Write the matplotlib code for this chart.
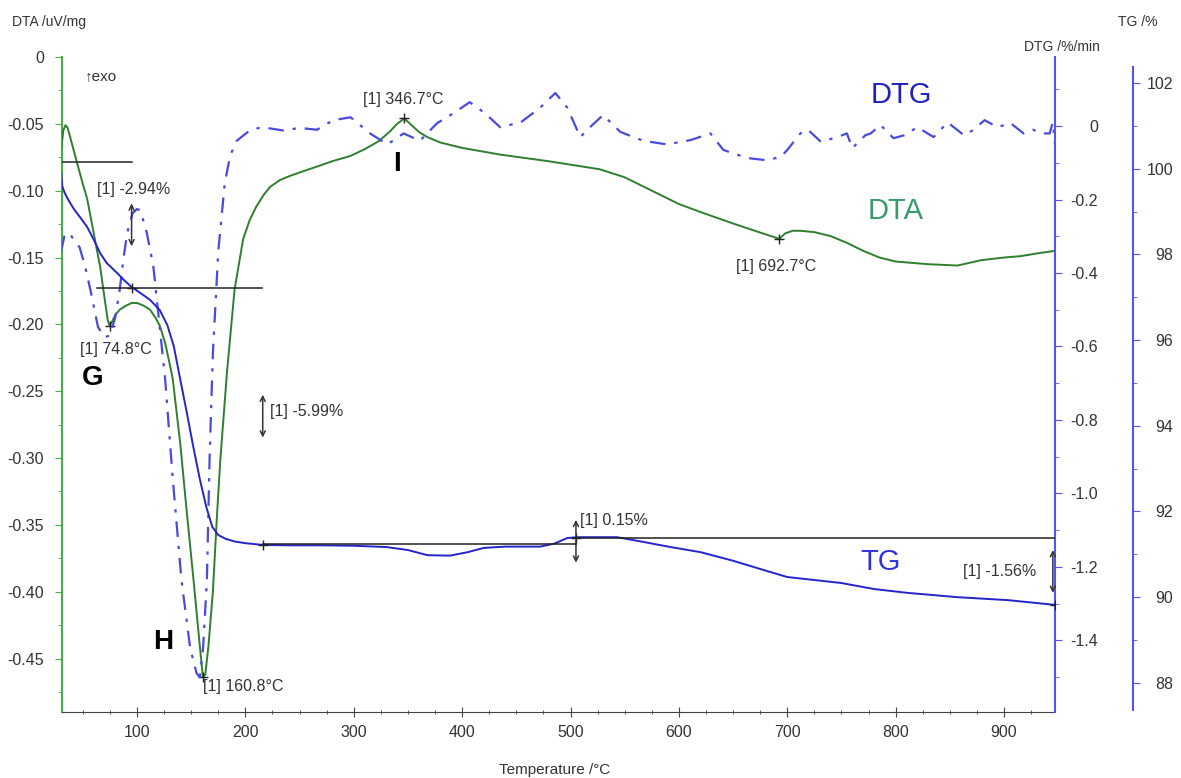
import numpy as np
import matplotlib
matplotlib.use("Agg")
import matplotlib.pyplot as plt
from matplotlib.ticker import MultipleLocator

plt.rcParams['font.family'] = ['Liberation Sans', 'DejaVu Sans']

# DTA curve (temperature degC, uV/mg)
dta_t = [30, 32, 34, 36, 40, 45, 50, 54, 58, 62, 66, 70, 73, 74.8, 77, 80, 84, 90, 95, 100,
         106, 112, 117, 121, 126, 130.5, 133, 140, 146, 152, 158, 160.8, 163, 166, 170, 174,
         177, 183, 190, 198, 204, 210, 217, 223, 232, 241, 255, 266, 280, 297, 310, 323, 333,
         340, 346.7, 352, 360, 368, 380, 400, 435, 480, 527, 550, 575, 600, 620, 648, 670,
         685, 692.7, 698, 705, 712, 725, 740, 755, 770, 785, 800, 830, 857, 879, 900, 915,
         930, 947]
dta_v = [-0.07, -0.055, -0.051, -0.053, -0.065, -0.08, -0.095, -0.106, -0.123, -0.140, -0.157,
         -0.180, -0.197, -0.201, -0.198, -0.193, -0.189, -0.186, -0.184, -0.184, -0.186, -0.189,
         -0.195, -0.201, -0.214, -0.231, -0.241, -0.290, -0.341, -0.390, -0.441, -0.464, -0.462,
         -0.440, -0.400, -0.340, -0.300, -0.236, -0.174, -0.136, -0.122, -0.112, -0.103, -0.097,
         -0.092, -0.089, -0.085, -0.082, -0.078, -0.074, -0.069, -0.063, -0.056, -0.050, -0.046,
         -0.050, -0.056, -0.060, -0.064, -0.068, -0.073, -0.078, -0.084, -0.090, -0.100, -0.110,
         -0.116, -0.124, -0.130, -0.134, -0.136, -0.132, -0.130, -0.130, -0.131, -0.134, -0.139,
         -0.145, -0.150, -0.153, -0.155, -0.156, -0.152, -0.150, -0.149, -0.147, -0.145]

# TG curve (degC, %)
tg_t = [30, 31, 33, 36, 42, 48, 54, 60, 66, 72, 81.5, 88, 95, 103, 112, 121, 128, 134, 140,
        146, 152, 158, 164, 169.5, 175, 182, 190, 200, 216, 240, 270, 300, 330, 350, 368, 389,
        405, 420, 440, 472, 485, 497, 506, 543, 565, 590, 620, 650, 680, 700, 725, 750, 780,
        811, 857, 904, 947]
tg_v = [99.92, 99.6, 99.45, 99.30, 99.05, 98.85, 98.64, 98.35, 98.03, 97.8, 97.57, 97.40, 97.24,
        97.10, 96.94, 96.70, 96.35, 95.85, 95.07, 94.3, 93.5, 92.75, 92.1, 91.64, 91.45, 91.36,
        91.30, 91.26, 91.22, 91.21, 91.21, 91.20, 91.17, 91.10, 90.98, 90.97, 91.05, 91.15,
        91.18, 91.18, 91.25, 91.38, 91.40, 91.40, 91.30, 91.18, 91.05, 90.85, 90.62, 90.47,
        90.40, 90.33, 90.19, 90.10, 90.00, 89.93, 89.82]

# DTG curve (degC, %/min)
dtg_t = [30, 33, 37, 42, 47, 52, 57, 64, 70, 75, 80, 84, 88, 91, 96, 100, 103, 109, 115, 120,
         126, 133, 141, 149, 155, 158, 161, 164.5, 167, 170, 175, 181, 186, 192, 204, 215, 235,
         250, 266, 281, 297, 315, 331, 346, 361, 377, 392, 407, 421, 435, 454, 472, 486, 497,
         509, 518, 530, 546, 567, 589, 602, 611, 629, 641, 663, 681, 694, 700, 712, 719, 731,
         746, 755, 760, 772, 777, 786, 798, 808, 820, 835, 848, 863, 872, 882, 894, 906, 918,
         927, 933, 942, 945, 947]
dtg_v = [-0.34, -0.30, -0.29, -0.31, -0.33, -0.38, -0.446, -0.547, -0.575, -0.57, -0.52, -0.446,
         -0.35, -0.29, -0.237, -0.226, -0.229, -0.29, -0.38, -0.52, -0.69, -0.96, -1.235, -1.42,
         -1.49, -1.50, -1.42, -1.235, -0.90, -0.62, -0.34, -0.155, -0.08, -0.04, -0.012, -0.003,
         -0.012, -0.005, -0.01, 0.016, 0.024, -0.02, -0.05, -0.02, -0.04, 0.008, 0.035, 0.065,
         0.035, -0.003, 0.01, 0.05, 0.09, 0.05, -0.03, -0.003, 0.03, -0.016, -0.04, -0.05,
         -0.043, -0.038, -0.02, -0.065, -0.087, -0.093, -0.084, -0.065, -0.02, -0.01, -0.043,
         -0.03, -0.02, -0.06, -0.025, -0.02, 0.003, -0.033, -0.025, -0.003, -0.03, 0.01, -0.025,
         -0.01, 0.016, -0.003, 0.008, -0.02, -0.01, -0.02, -0.02, 0.01, -0.05]

# TG step evaluation: levels and step temperatures
step_levels = [100.16, 97.22, 91.23, 91.38, 89.82]
step_lines = [(30, 95), (63, 215), (216, 505), (505, 947)]
step_arrow_t = [95, 216, 505, 945]
step_labels = ['[1] -2.94%', '[1] -5.99%', '[1] 0.15%', '[1] -1.56%']
step_label_pos = [(63, -0.099), (223, -0.265), (509, -0.347), (862, -0.385)]

peak_t = [74.8, 160.8, 346.7, 692.7]
peak_v = [-0.201, -0.464, -0.046, -0.136]
peak_labels = ['[1] 74.8°C', '[1] 160.8°C', '[1] 346.7°C', '[1] 692.7°C']
peak_label_pos = [(47.3, -0.219), (161, -0.471), (308.8, -0.0315), (652.4, -0.1565)]

dta_ticks = [0, -0.05, -0.10, -0.15, -0.20, -0.25, -0.30, -0.35, -0.40, -0.45]
dtg_ticks = [0, -0.2, -0.4, -0.6, -0.8, -1.0, -1.2, -1.4]
tg_ticks = [88, 90, 92, 94, 96, 98, 100, 102]

green = '#2f7f2f'
green_ax = '#45b045'
blue_tg = '#2424cc'
blue_dtg = '#4a4ade'
blue_ax = '#5555ee'
txt = '#333333'

fig = plt.figure(figsize=(11.81, 7.78), dpi=100)
ax = fig.add_axes([62/1181, 1-712/778, (1055-62)/1181, (712-57)/778])
ax2 = ax.twinx()
ax3 = ax.twinx()

ax.plot(dta_t, dta_v, color=green, lw=1.4, zorder=3)
ax2.plot(dtg_t, dtg_v, color=blue_dtg, lw=1.6, ls=(0, (7, 4, 1.5, 4)))
ax3.plot(tg_t, tg_v, color=blue_tg, lw=1.4)

ax.set_xlim(30.8, 947)
ax.set_ylim(-0.49, 0)
ax2.set_ylim(-1.595, 0.188)
ax3.set_ylim(87.32, 102.607)

# spines
for s in ['top', 'right']:
    ax.spines[s].set_visible(False)
ax.spines['left'].set_color(green_ax)
ax.spines['left'].set_linewidth(1.5)
ax.spines['bottom'].set_color('#444444')
for a in (ax2, ax3):
    for s in ['left', 'top', 'bottom']:
        a.spines[s].set_visible(False)
    a.spines['right'].set_color(blue_ax)
    a.spines['right'].set_linewidth(1.5)
ax3.spines['right'].set_position(('axes', (1133-62)/(1055-62)))
ax3.spines['right'].set_bounds(87.37, 102.37)

# ticks
ax.set_xticks(range(100, 901, 100))
ax.xaxis.set_minor_locator(MultipleLocator(25))
ax.tick_params(axis='x', which='major', direction='inout', length=7, colors='#444444',
               labelcolor=txt, labelsize=11.5, pad=6)
ax.tick_params(axis='x', which='minor', direction='inout', length=3, colors='#444444')

ax.set_yticks(dta_ticks)
ax.set_yticklabels(['0'] + ['%.2f' % v for v in dta_ticks[1:]])
ax.yaxis.set_minor_locator(MultipleLocator(0.025))
ax.tick_params(axis='y', which='major', direction='out', length=5, colors=green_ax,
               labelcolor=txt, labelsize=11.5, pad=8)
ax.tick_params(axis='y', which='minor', direction='out', length=3, colors=green_ax)

ax2.set_yticks(dtg_ticks)
ax2.set_yticklabels(['0'] + ['%.1f' % v for v in dtg_ticks[1:]])
ax2.yaxis.set_minor_locator(MultipleLocator(0.1))
ax2.tick_params(axis='y', which='major', direction='out', length=5, colors=blue_ax,
                labelcolor=txt, labelsize=11.5, pad=26)
ax2.tick_params(axis='y', which='minor', direction='out', length=3, colors=blue_ax)
for lab in ax2.get_yticklabels():
    lab.set_horizontalalignment('right')

ax3.set_yticks(tg_ticks)
ax3.yaxis.set_minor_locator(MultipleLocator(1))
ax3.tick_params(axis='y', which='major', direction='out', length=5, colors=blue_ax,
                labelcolor=txt, labelsize=11.5, pad=24)
ax3.tick_params(axis='y', which='minor', direction='out', length=3, colors=blue_ax)
for lab in ax3.get_yticklabels():
    lab.set_horizontalalignment('right')

# TG step lines and arrows
for (t0, t1), lev in zip(step_lines, step_levels[:-1]):
    ax3.plot([t0, t1], [lev, lev], color='#222222', lw=1.1, zorder=4)
for i, t in enumerate(step_arrow_t):
    mid = (step_levels[i] + step_levels[i + 1]) / 2
    ax3.annotate('', xy=(t, mid + 0.5), xytext=(t, mid - 0.5),
                 arrowprops=dict(arrowstyle='<->', color='#333333', lw=1.1,
                                 mutation_scale=9, shrinkA=0, shrinkB=0))
ax3.plot([95, 216, 505, 947], [97.22, 91.22, 91.38, 89.82], '+', color='#222222', ms=7)

for lab, (x, y) in zip(step_labels, step_label_pos):
    ax.text(x, y, lab, fontsize=11.5, color=txt, ha='left', va='center')

# DTA peaks
ax.plot(peak_t, peak_v, '+', color='#222222', ms=7, zorder=5)
for lab, (x, y) in zip(peak_labels, peak_label_pos):
    ax.text(x, y, lab, fontsize=11.5, color=txt, ha='left', va='center')

# letters and curve names
ax.text(59.4, -0.240, 'G', fontsize=20, fontweight='bold', ha='center', va='center')
ax.text(124, -0.438, 'H', fontsize=20, fontweight='bold', ha='center', va='center')
ax.text(340, -0.080, 'I', fontsize=20, fontweight='bold', ha='center', va='center')
ax.text(52, -0.014, '↑exo', fontsize=11, color=txt, ha='left', va='center')
ax.text(805, -0.0285, 'DTG', fontsize=21, color='#2020c0', ha='center', va='center')
ax.text(800, -0.1155, 'DTA', fontsize=21, color='#3a9a6a', ha='center', va='center')
ax.text(786, -0.3775, 'TG', fontsize=21, color='#3030e0', ha='center', va='center')

# axis titles
fig.text(12/1181, 1-22/778, 'DTA /uV/mg', fontsize=10, color=txt, ha='left', va='center')
fig.text(1157/1181, 1-22/778, 'TG /%', fontsize=10, color=txt, ha='right', va='center')
fig.text(1100/1181, 1-47/778, 'DTG /%/min', fontsize=10, color=txt, ha='right', va='center')
fig.text(555/1181, 1-770/778, 'Temperature /°C', fontsize=11, color=txt, ha='center', va='center')

fig.savefig('out.png', dpi=100)
